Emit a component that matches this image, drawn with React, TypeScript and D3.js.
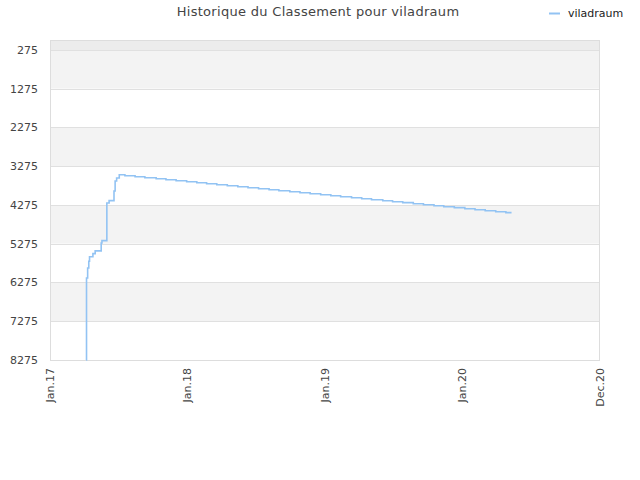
import { useEffect, useRef } from 'react';
import * as d3 from 'd3';

// données
const rankDates = [
  '2017-04-07', '2017-04-08', '2017-04-11', '2017-04-14', '2017-04-16', '2017-04-25',
  '2017-05-01', '2017-05-17', '2017-05-19', '2017-06-01', '2017-06-07', '2017-06-20',
  '2017-06-23', '2017-06-27', '2017-07-04',
  '2017-07-19', '2017-08-15', '2017-09-10', '2017-10-10', '2017-11-05', '2017-12-02',
  '2017-12-30', '2018-01-26', '2018-02-21', '2018-03-20', '2018-04-17', '2018-05-15',
  '2018-06-11', '2018-07-09', '2018-08-06', '2018-09-01', '2018-09-30', '2018-10-27',
  '2018-11-23', '2018-12-21', '2019-01-17', '2019-02-12', '2019-03-13', '2019-04-09',
  '2019-05-05', '2019-06-04', '2019-06-30', '2019-07-27', '2019-08-24', '2019-09-20',
  '2019-10-18', '2019-11-13', '2019-12-11', '2020-01-08', '2020-02-04', '2020-03-02',
  '2020-03-30', '2020-04-26', '2020-05-11',
];
const rankValues = [
  8275, 6160, 5900, 5727, 5610, 5530,
  5460, 5255, 5195, 4222, 4163, 3913,
  3655, 3577, 3493,
  3519, 3545, 3570, 3596, 3622, 3648,
  3674, 3699, 3725, 3751, 3777, 3803,
  3828, 3854, 3880, 3906, 3932, 3957,
  3983, 4009, 4035, 4061, 4086, 4112,
  4138, 4164, 4190, 4215, 4241, 4267,
  4293, 4319, 4344, 4370, 4396, 4422,
  4448, 4473, 4473,
];
const yTicks = [275, 1275, 2275, 3275, 4275, 5275, 6275, 7275, 8275];
const xTickDates = ['2017-01-01', '2018-01-01', '2019-01-01', '2020-01-01', '2021-01-01'];
const xTickLabels = ['Jan.17', 'Jan.18', 'Jan.19', 'Jan.20', 'Dec.20'];
const seriesName = 'viladraum';
const title = 'Historique du Classement pour viladraum';

const width = 640;
const height = 480;
const plot = { left: 50, right: 600, top: 40, bottom: 360 };
const font = '"DejaVu Sans", sans-serif';
const lineColor = '#92c3f3';

export default function App() {
  const ref = useRef<SVGSVGElement | null>(null);

  useEffect(() => {
    if (!ref.current) return;
    const svg = d3.select(ref.current);
    svg.selectAll('*').remove();

    const parse = d3.timeParse('%Y-%m-%d');
    const data = rankDates.map((d, i) => ({ date: parse(d) as Date, rank: rankValues[i] }));

    const x = d3.scaleTime()
      .domain([parse(xTickDates[0]) as Date, parse(xTickDates[xTickDates.length - 1]) as Date])
      .range([plot.left, plot.right]);
    const y = d3.scaleLinear().domain([17, 8275]).range([plot.top, plot.bottom]);

    svg.append('rect')
      .attr('width', width).attr('height', height).attr('fill', '#ffffff');

    // bande du haut
    svg.append('rect')
      .attr('x', plot.left).attr('y', y(17))
      .attr('width', plot.right - plot.left).attr('height', y(275) - y(17))
      .attr('fill', '#ececec');

    // bandes alternées
    svg.append('g')
      .selectAll('rect')
      .data(yTicks.slice(0, -1))
      .enter()
      .append('rect')
      .attr('x', plot.left)
      .attr('y', d => y(d))
      .attr('width', plot.right - plot.left)
      .attr('height', (d, i) => y(yTicks[i + 1]) - y(d))
      .attr('fill', (d, i) => (i % 2 === 0 ? '#f3f3f3' : '#ffffff'));

    // grille
    svg.append('g')
      .selectAll('line')
      .data(yTicks)
      .enter()
      .append('line')
      .attr('x1', plot.left).attr('x2', plot.right)
      .attr('y1', d => Math.round(y(d)) + 0.5).attr('y2', d => Math.round(y(d)) + 0.5)
      .attr('stroke', '#e0e0e0').attr('stroke-width', 1);

    // cadre
    svg.append('rect')
      .attr('x', plot.left + 0.5).attr('y', plot.top + 0.5)
      .attr('width', plot.right - plot.left - 1).attr('height', plot.bottom - plot.top)
      .attr('fill', 'none').attr('stroke', '#dddddd').attr('stroke-width', 1);

    // étiquettes Y
    svg.append('g')
      .selectAll('text')
      .data(yTicks)
      .enter()
      .append('text')
      .attr('x', 38)
      .attr('y', d => y(d) + 4)
      .attr('text-anchor', 'end')
      .style('font-family', font).style('font-size', '11px').style('fill', '#444')
      .text(d => d);

    // étiquettes X
    svg.append('g')
      .selectAll('text')
      .data(xTickDates)
      .enter()
      .append('text')
      .attr('transform', d => `translate(${x(parse(d) as Date) + 4}, 368) rotate(-90)`)
      .attr('text-anchor', 'end')
      .style('font-family', font).style('font-size', '11px').style('fill', '#444')
      .text((d, i) => xTickLabels[i]);

    // ligne du classement
    const line = d3.line<{ date: Date; rank: number }>()
      .x(d => x(d.date))
      .y(d => y(d.rank))
      .curve(d3.curveStepAfter);

    svg.append('path')
      .datum(data)
      .attr('d', line)
      .attr('fill', 'none')
      .attr('stroke', lineColor)
      .attr('stroke-width', 1.6);

    // titre
    svg.append('text')
      .attr('x', 318).attr('y', 16)
      .attr('text-anchor', 'middle')
      .style('font-family', font).style('font-size', '13px')
      .style('letter-spacing', '0.3px').style('fill', '#444')
      .text(title);

    // légende
    svg.append('line')
      .attr('x1', 549).attr('x2', 560).attr('y1', 13.5).attr('y2', 13.5)
      .attr('stroke', lineColor).attr('stroke-width', 2);
    svg.append('text')
      .attr('x', 568).attr('y', 17)
      .style('font-family', font).style('font-size', '11px').style('fill', '#222')
      .text(seriesName);
  }, []);

  return (
    <svg
      ref={ref}
      width={width}
      height={height}
      style={{ position: 'absolute', left: 0, top: 0 }}
    />
  );
}
